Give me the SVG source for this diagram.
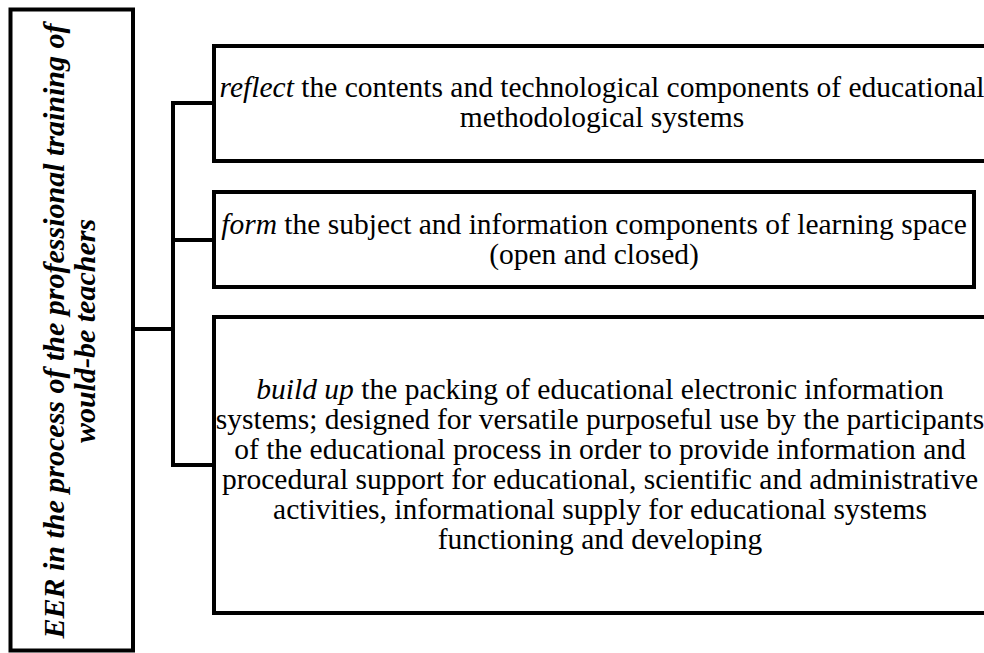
<svg xmlns="http://www.w3.org/2000/svg" width="984" height="653" viewBox="0 0 984 653">
<style>
.box{fill:#fff;stroke:#000;stroke-width:4}
.con{fill:none;stroke:#000;stroke-width:4;stroke-linecap:square}
.t{font-size:29.5px;fill:#000;text-anchor:middle}
.v{font-size:30px;font-weight:bold;font-style:italic;fill:#000;text-anchor:middle}
.i{font-style:italic}
</style>
<rect width="984" height="653" fill="#fff"/>
<g id="connectors">
<line class="con" x1="133" y1="329" x2="173" y2="329"/>
<line class="con" x1="173" y1="103" x2="173" y2="465"/>
<line class="con" x1="173" y1="103" x2="214" y2="103"/>
<line class="con" x1="173" y1="240" x2="214" y2="240"/>
<line class="con" x1="173" y1="465" x2="214" y2="465"/>
</g>
<g id="root" font-family="Liberation Serif, DejaVu Serif, serif">
<rect class="box" x="10.5" y="9.5" width="122.5" height="641"/>
<text class="v" transform="translate(64,331) rotate(-90)">EER in the process of the professional training of</text>
<text class="v" transform="translate(95,331) rotate(-90)">would-be teachers</text>
</g>
<g id="reflect" font-family="Liberation Serif, DejaVu Serif, serif">
<rect class="box" x="214" y="46" width="776" height="115"/>
<text class="t" x="602" y="97"><tspan class="i">reflect</tspan> the contents and technological components of educational</text>
<text class="t" x="602" y="127">methodological systems</text>
</g>
<g id="form" font-family="Liberation Serif, DejaVu Serif, serif">
<rect class="box" x="214" y="192" width="760" height="95"/>
<text class="t" x="594" y="234"><tspan class="i">form</tspan> the subject and information components of learning space</text>
<text class="t" x="594" y="264">(open and closed)</text>
</g>
<g id="buildup" font-family="Liberation Serif, DejaVu Serif, serif">
<rect class="box" x="214" y="317" width="776" height="296"/>
<text class="t" x="600" y="398.5"><tspan class="i">build up</tspan> the packing of educational electronic information</text>
<text class="t" x="600" y="428.5">systems; designed for versatile purposeful use by the participants</text>
<text class="t" x="600" y="458.5">of the educational process in order to provide information and</text>
<text class="t" x="600" y="488.5">procedural support for educational, scientific and administrative</text>
<text class="t" x="600" y="518.5">activities, informational supply for educational systems</text>
<text class="t" x="600" y="548.5">functioning and developing</text>
</g>
</svg>
